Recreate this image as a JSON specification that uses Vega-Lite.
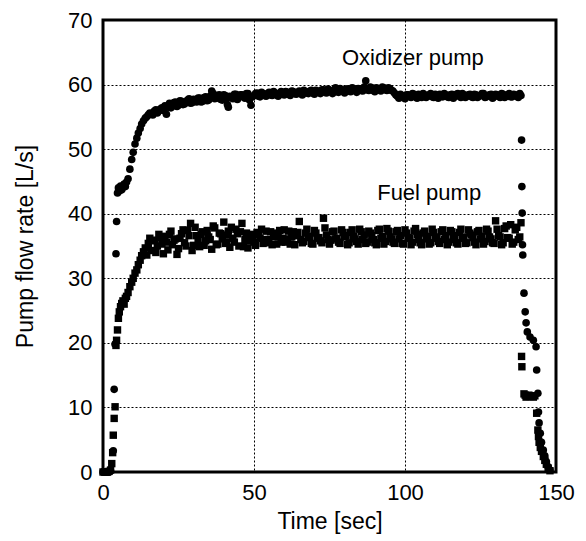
{
  "$schema": "https://vega.github.io/schema/vega-lite/v6.json",
  "width": 453,
  "height": 452,
  "autosize": {"type": "none"},
  "padding": {"left": 103, "top": 20, "right": 30, "bottom": 69},
  "background": "white",
  "config": {
    "view": {"stroke": "black", "strokeWidth": 3},
    "font": "Liberation Sans",
    "axis": {
      "grid": true, "gridColor": "black", "gridDash": [2, 2], "gridWidth": 1, "gridOpacity": 1,
      "domain": false, "ticks": false,
      "labelFontSize": 22, "labelColor": "black", "labelFlush": false,
      "titleFontSize": 23, "titleFontWeight": "normal", "titleColor": "black"
    }
  },
  "datasets": {
    "pump": [
      {"t":0,"o":0,"f":0},{"t":0.5,"o":0,"f":0},{"t":1,"o":0,"f":0},{"t":1.5,"o":0,"f":0},{"t":2,"o":0,"f":0.1},{"t":2.5,"o":0.2,"f":0.3},
      {"t":2.9,"f":1.3},{"t":3.2,"f":3.0},{"t":3.4,"o":3.3,"f":5.7},{"t":3.7,"o":12.8,"f":8.3},{"t":4.0,"o":19.8,"f":10.1},
      {"t":4.3,"o":33.8,"f":19.6},{"t":4.5,"o":38.8,"f":20.4},{"t":4.8,"o":43.2,"f":22.0},{"t":5.1,"o":44.0,"f":23.8},{"t":5.4,"o":43.5,"f":24.8},
      {"t":5.8,"o":44.3,"f":25.6},{"t":6.2,"o":43.7,"f":26.1},{"t":6.6,"o":44.1,"f":26.5},{"t":7.0,"o":44.6,"f":26.0},{"t":7.4,"o":44.2,"f":26.9},
      {"t":7.8,"o":44.9,"f":27.2},{"t":8.3,"o":45.4,"f":27.8},{"t":8.9,"o":46.9,"f":28.7},{"t":9.5,"o":48.4,"f":29.4},{"t":10.0,"o":49.5,"f":30.0},
      {"t":10.6,"o":50.8,"f":30.8},{"t":11.2,"o":51.7,"f":31.3},{"t":11.7,"o":52.5,"f":32.1},{"t":12.3,"o":53.2,"f":32.8},{"t":12.8,"o":53.9,"f":33.5},
      {"t":13.4,"o":54.4,"f":34.1},{"t":14,"o":54.8,"f":34.7},{"t":15,"o":55.3,"f":35.4},{"t":16,"o":55.5,"f":34.3},{"t":17,"o":55.9,"f":35.9},
      {"t":18,"o":55.6,"f":35.0},{"t":19,"o":56.2,"f":36.3},{"t":20,"o":56.0,"f":33.8},{"t":21,"o":55.4,"f":35.6},{"t":22,"o":57.1,"f":36.8},
      {"t":23,"o":56.7,"f":35.2},{"t":24,"o":57.3,"f":36.1},{"t":25,"o":56.8,"f":34.6},{"t":26,"o":57.4,"f":36.9},{"t":27,"o":57.0,"f":35.5},
      {"t":28,"o":57.6,"f":37.4},{"t":29,"o":57.1,"f":38.5},{"t":30,"o":57.7,"f":35.1},{"t":31,"o":57.3,"f":36.6},{"t":32,"o":57.9,"f":34.9},
      {"t":33,"o":57.4,"f":37.2},{"t":34,"o":58.1,"f":35.8},{"t":35,"o":57.6,"f":36.4},{"t":36,"o":59.0,"f":34.5},{"t":37,"o":57.8,"f":37.8},
      {"t":38,"o":58.3,"f":35.3},{"t":39,"o":57.7,"f":36.9},{"t":40,"o":58.4,"f":38.7},{"t":41,"o":57.9,"f":35.6},{"t":41.5,"o":56.5,"f":37.3},
      {"t":42,"o":58.2,"f":34.8},{"t":43,"o":57.8,"f":36.2},{"t":44,"o":58.5,"f":37.6},{"t":45,"o":58.0,"f":35.0},{"t":46,"o":58.4,"f":38.5},
      {"t":47,"o":57.9,"f":36.0},{"t":48,"o":58.6,"f":34.7},{"t":49,"o":56.8,"f":36.8},{"t":50,"o":58.3,"f":35.6},{"t":51,"o":58.7,"f":37.1},
      {"t":52,"o":58.1,"f":36.2},{"t":53,"o":58.6,"f":35.4},{"t":54,"o":58.2,"f":37.3},{"t":55,"o":58.8,"f":36.0},{"t":56,"o":58.3,"f":35.2},
      {"t":57,"o":58.7,"f":37.0},{"t":58,"o":58.2,"f":36.4},{"t":59,"o":58.9,"f":35.6},{"t":60,"o":58.4,"f":37.5},{"t":61,"o":58.8,"f":36.1},
      {"t":62,"o":58.3,"f":35.3},{"t":63,"o":58.9,"f":37.2},{"t":64,"o":58.5,"f":36.6},{"t":65,"o":59.0,"f":38.8},{"t":66,"o":58.4,"f":35.5},
      {"t":67,"o":58.9,"f":37.0},{"t":68,"o":58.6,"f":36.3},{"t":69,"o":59.1,"f":35.4},{"t":70,"o":58.5,"f":37.4},{"t":71,"o":59.0,"f":36.2},
      {"t":72,"o":58.6,"f":35.8},{"t":73,"o":59.2,"f":39.3},{"t":74,"o":58.7,"f":36.7},{"t":75,"o":59.1,"f":35.3},{"t":76,"o":58.6,"f":37.2},
      {"t":77,"o":59.5,"f":36.1},{"t":78,"o":58.8,"f":35.6},{"t":79,"o":59.2,"f":37.5},{"t":80,"o":58.7,"f":36.4},{"t":81,"o":59.3,"f":35.2},
      {"t":82,"o":58.9,"f":37.1},{"t":83,"o":59.4,"f":36.5},{"t":84,"o":58.8,"f":35.7},{"t":85,"o":59.3,"f":37.6},{"t":86,"o":59.0,"f":36.0},
      {"t":87,"o":60.6,"f":35.4},{"t":88,"o":59.1,"f":37.3},{"t":89,"o":59.5,"f":36.6},{"t":90,"o":58.9,"f":35.5},{"t":91,"o":59.4,"f":37.4},
      {"t":92,"o":59.0,"f":36.2},{"t":93,"o":59.5,"f":35.3},{"t":94,"o":59.1,"f":37.7},{"t":95,"o":59.4,"f":36.4},{"t":96,"o":59.0,"f":35.6},
      {"t":97,"o":58.4,"f":37.2},{"t":98,"o":57.9,"f":36.1},{"t":99,"o":58.3,"f":35.4},{"t":100,"o":57.8,"f":37.5},{"t":101,"o":58.4,"f":36.3},
      {"t":102,"o":58.0,"f":35.2},{"t":103,"o":58.5,"f":37.3},{"t":104,"o":57.9,"f":36.8},{"t":105,"o":58.3,"f":35.5},{"t":106,"o":58.6,"f":37.0},
      {"t":107,"o":58.0,"f":36.1},{"t":108,"o":58.4,"f":35.3},{"t":109,"o":58.1,"f":37.6},{"t":110,"o":58.5,"f":36.4},{"t":111,"o":57.9,"f":35.7},
      {"t":112,"o":58.3,"f":37.2},{"t":113,"o":58.6,"f":36.0},{"t":114,"o":58.1,"f":35.2},{"t":115,"o":58.4,"f":37.4},{"t":116,"o":57.9,"f":36.6},
      {"t":117,"o":58.5,"f":35.5},{"t":118,"o":58.2,"f":37.1},{"t":119,"o":58.6,"f":36.2},{"t":120,"o":58.0,"f":35.4},{"t":121,"o":58.4,"f":37.5},
      {"t":122,"o":58.1,"f":36.7},{"t":123,"o":58.5,"f":35.6},{"t":124,"o":58.0,"f":37.2},{"t":125,"o":58.3,"f":36.1},{"t":126,"o":58.6,"f":35.3},
      {"t":127,"o":58.1,"f":37.6},{"t":128,"o":58.4,"f":36.4},{"t":129,"o":57.9,"f":35.5},{"t":130,"o":58.5,"f":38.9},{"t":131,"o":58.2,"f":36.6},
      {"t":132,"o":58.6,"f":35.2},{"t":133,"o":58.0,"f":37.7},{"t":134,"o":58.4,"f":36.3},{"t":135,"o":58.1,"f":38.3},{"t":136,"o":58.5,"f":35.6},
      {"t":137,"o":58.2,"f":37.9},{"t":138,"o":58.6,"f":36.4},{"t":138.4,"o":58.3,"f":38.6},
      {"t":14.5,"o":55.0,"f":33.6},{"t":15.5,"o":55.6,"f":36.2},{"t":16.5,"o":55.3,"f":35.8},{"t":17.5,"o":56.1,"f":34.0},{"t":18.5,"o":55.9,"f":36.8},
      {"t":19.5,"o":56.4,"f":35.3},{"t":20.5,"o":56.7,"f":36.5},{"t":21.5,"o":56.5,"f":34.4},{"t":22.5,"o":56.4,"f":37.3},{"t":23.5,"o":57.2,"f":35.9},
      {"t":24.5,"o":56.6,"f":33.7},{"t":25.5,"o":57.5,"f":36.2},{"t":26.5,"o":56.9,"f":37.5},{"t":27.5,"o":57.3,"f":35.0},{"t":28.5,"o":57.8,"f":36.6},
      {"t":29.5,"o":57.2,"f":34.3},{"t":30.5,"o":57.5,"f":37.9},{"t":31.5,"o":57.9,"f":35.7},{"t":32.5,"o":57.3,"f":36.8},{"t":33.5,"o":58.0,"f":35.1},
      {"t":34.5,"o":57.5,"f":37.4},{"t":35.5,"o":58.2,"f":36.0},{"t":36.5,"o":58.6,"f":38.1},{"t":37.5,"o":57.9,"f":35.2},{"t":38.5,"o":58.4,"f":37.0},
      {"t":39.5,"o":57.6,"f":36.1},{"t":40.5,"o":58.3,"f":35.4},{"t":41.2,"o":56.9,"f":36.7},{"t":42.5,"o":58.0,"f":37.9},{"t":43.5,"o":58.5,"f":35.6},
      {"t":44.5,"o":57.7,"f":36.9},{"t":45.5,"o":58.4,"f":37.2},{"t":46.5,"o":58.1,"f":34.9},{"t":47.5,"o":58.6,"f":37.0},{"t":48.5,"o":57.6,"f":35.8},
      {"t":49.5,"o":58.1,"f":36.4},{"t":50.5,"o":58.6,"f":35.1},{"t":51.5,"o":58.2,"f":36.8},{"t":52.5,"o":58.8,"f":37.6},{"t":53.5,"o":58.3,"f":36.0},
      {"t":54.5,"o":58.6,"f":35.5},{"t":55.5,"o":58.4,"f":37.2},{"t":56.5,"o":58.9,"f":36.5},{"t":57.5,"o":58.4,"f":35.3},{"t":58.5,"o":58.7,"f":37.4},
      {"t":59.5,"o":58.5,"f":36.2},{"t":60.5,"o":58.9,"f":35.6},{"t":61.5,"o":58.5,"f":37.3},{"t":62.5,"o":59.0,"f":36.4},{"t":63.5,"o":58.6,"f":35.2},
      {"t":64.5,"o":58.8,"f":37.1},{"t":65.5,"o":58.6,"f":36.0},{"t":66.5,"o":59.1,"f":35.7},{"t":67.5,"o":58.7,"f":37.6},{"t":68.5,"o":59.0,"f":36.5},
      {"t":69.5,"o":58.7,"f":35.3},{"t":70.5,"o":59.1,"f":37.0},{"t":71.5,"o":58.8,"f":36.3},{"t":72.5,"o":59.2,"f":35.5},{"t":73.5,"o":58.8,"f":37.8},
      {"t":74.5,"o":59.3,"f":36.0},{"t":75.5,"o":58.9,"f":35.9},{"t":76.5,"o":59.2,"f":37.3},{"t":77.5,"o":58.9,"f":36.2},{"t":78.5,"o":59.4,"f":35.4},
      {"t":79.5,"o":59.0,"f":37.1},{"t":80.5,"o":59.3,"f":36.6},{"t":81.5,"o":59.0,"f":35.5},{"t":82.5,"o":59.5,"f":37.5},{"t":83.5,"o":59.1,"f":36.1},
      {"t":84.5,"o":59.4,"f":35.3},{"t":85.5,"o":59.1,"f":37.2},{"t":86.5,"o":59.6,"f":36.7},{"t":87.5,"o":59.2,"f":35.6},{"t":88.5,"o":59.6,"f":37.0},
      {"t":89.5,"o":59.1,"f":36.0},{"t":90.5,"o":59.5,"f":35.2},{"t":91.5,"o":59.2,"f":37.6},{"t":92.5,"o":59.6,"f":36.5},{"t":93.5,"o":59.2,"f":35.7},
      {"t":94.5,"o":59.5,"f":37.3},{"t":95.5,"o":59.1,"f":36.1},{"t":96.5,"o":58.7,"f":35.4},{"t":97.5,"o":58.2,"f":37.4},{"t":98.5,"o":58.5,"f":36.6},
      {"t":99.5,"o":58.1,"f":35.3},{"t":100.5,"o":58.4,"f":37.0},{"t":101.5,"o":58.2,"f":36.2},{"t":102.5,"o":58.6,"f":35.6},{"t":103.5,"o":58.1,"f":37.7},
      {"t":104.5,"o":58.5,"f":36.0},{"t":105.5,"o":58.0,"f":35.2},{"t":106.5,"o":58.4,"f":37.3},{"t":107.5,"o":58.2,"f":36.5},{"t":108.5,"o":58.6,"f":35.5},
      {"t":109.5,"o":58.0,"f":37.1},{"t":110.5,"o":58.3,"f":36.2},{"t":111.5,"o":58.5,"f":35.4},{"t":112.5,"o":58.1,"f":37.5},{"t":113.5,"o":58.4,"f":36.6},
      {"t":114.5,"o":58.0,"f":35.6},{"t":115.5,"o":58.5,"f":37.2},{"t":116.5,"o":58.2,"f":36.0},{"t":117.5,"o":58.6,"f":35.3},{"t":118.5,"o":58.0,"f":37.6},
      {"t":119.5,"o":58.4,"f":36.4},{"t":120.5,"o":58.2,"f":35.5},{"t":121.5,"o":58.5,"f":37.0},{"t":122.5,"o":58.0,"f":36.3},{"t":123.5,"o":58.4,"f":35.2},
      {"t":124.5,"o":58.2,"f":37.4},{"t":125.5,"o":58.6,"f":36.5},{"t":126.5,"o":58.0,"f":35.7},{"t":127.5,"o":58.3,"f":37.3},{"t":128.5,"o":58.5,"f":36.1},
      {"t":129.5,"o":58.1,"f":35.4},{"t":130.5,"o":58.4,"f":37.6},{"t":131.5,"o":58.0,"f":36.4},{"t":132.5,"o":58.5,"f":35.5},{"t":133.5,"o":58.2,"f":38.1},
      {"t":134.5,"o":58.6,"f":36.2},{"t":135.5,"o":58.1,"f":35.3},{"t":136.5,"o":58.4,"f":37.5},{"t":137.5,"o":58.0,"f":36.0},
      {"t":138.6,"o":51.4,"f":17.9},{"t":138.7,"o":44.2,"f":16.3},{"t":138.8,"o":40.1},{"t":138.9,"o":35.2},{"t":139.0,"o":33.6},
      {"t":139.4,"o":27.7,"f":12.1},{"t":139.8,"o":24.8,"f":11.9},{"t":140.1,"o":23.1,"f":11.6},{"t":140.5,"o":21.7,"f":11.8},{"t":141.0,"f":11.9},
      {"t":141.4,"o":20.9,"f":11.7},{"t":142.0,"f":11.8},{"t":142.5,"o":20.4,"f":11.6},{"t":143.0,"f":11.8},{"t":143.4,"o":19.4},
      {"t":143.6,"o":15.8,"f":9.1},{"t":144.0,"o":12.2,"f":6.5},{"t":144.2,"o":9.3,"f":5.5},{"t":144.4,"o":7.6,"f":4.6},{"t":144.8,"o":6.0,"f":3.8},
      {"t":145.2,"o":4.6,"f":3.2},{"t":145.8,"o":3.4,"f":2.4},{"t":146.3,"o":2.5,"f":1.8},{"t":146.8,"o":1.6,"f":1.2},{"t":147.4,"o":0.8,"f":0.6},
      {"t":148.0,"o":0.3,"f":0.2}
    ],
    "labels": [
      {"t": 102.6, "v": 63.1, "label": "Oxidizer pump"},
      {"t": 108.0, "v": 42.1, "label": "Fuel pump"}
    ]
  },
  "encoding": {
    "x": {
      "field": "t", "type": "quantitative",
      "scale": {"domain": [0, 150], "nice": false},
      "axis": {"values": [0, 50, 100, 150], "title": "Time [sec]", "labelPadding": 10, "titlePadding": 7}
    }
  },
  "layer": [
    {
      "data": {"name": "pump"},
      "mark": {"type": "circle", "color": "black", "opacity": 1, "size": 58},
      "encoding": {
        "y": {"field": "o", "type": "quantitative", "scale": {"domain": [0, 70], "nice": false},
              "axis": {"values": [0, 10, 20, 30, 40, 50, 60, 70], "title": "Pump flow rate [L/s]", "labelPadding": 11, "titlePadding": 30}}
      }
    },
    {
      "data": {"name": "pump"},
      "mark": {"type": "square", "color": "black", "opacity": 1, "size": 55},
      "encoding": {
        "y": {"field": "f", "type": "quantitative", "scale": {"domain": [0, 70], "nice": false},
              "axis": {"values": [0, 10, 20, 30, 40, 50, 60, 70], "title": "Pump flow rate [L/s]", "labelPadding": 11, "titlePadding": 30}}
      }
    },
    {
      "data": {"name": "labels"},
      "mark": {"type": "text", "fontSize": 22, "align": "center", "baseline": "alphabetic", "color": "black", "font": "Liberation Sans"},
      "encoding": {
        "y": {"field": "v", "type": "quantitative", "scale": {"domain": [0, 70], "nice": false},
              "axis": {"values": [0, 10, 20, 30, 40, 50, 60, 70], "title": "Pump flow rate [L/s]", "labelPadding": 11, "titlePadding": 30}},
        "text": {"field": "label"}
      }
    }
  ]
}
